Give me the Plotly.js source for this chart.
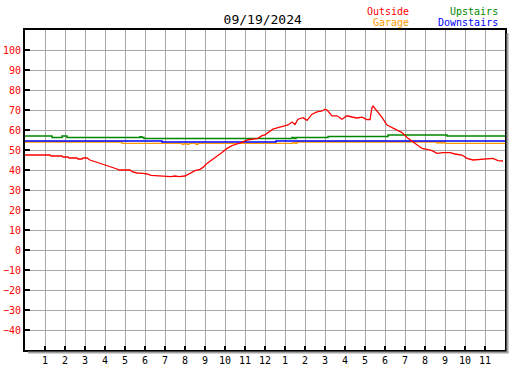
<!DOCTYPE html>
<html>
<head>
<meta charset="utf-8">
<script src="https://cdn.plot.ly/plotly-3.0.1.min.js"></script>
<style>
  html, body { margin: 0; padding: 0; background: #ffffff; }
  #chart { width: 527px; height: 370px; }
</style>
</head>
<body>
<div id="chart"></div>
<script>
// ---- Data (hours since midnight, temperature °F) ----
const outsideHours = [0,1.25,1.3,1.85,1.9,2.15,2.2,2.6,2.65,2.85,2.9,3.1,3.25,3.5,3.75,4.0,4.2,4.4,4.6,4.7,5.25,5.35,5.6,5.9,6.1,6.3,7.0,7.3,7.5,7.7,8.0,8.25,8.5,8.75,8.9,9.1,9.35,9.6,9.85,10.1,10.35,10.6,10.85,11.1,11.35,11.65,11.85,12.0,12.15,12.4,12.65,12.9,13.15,13.35,13.5,13.65,13.9,14.1,14.35,14.6,14.85,15.0,15.1,15.35,15.6,15.85,16.1,16.35,16.6,16.85,17.1,17.25,17.35,17.4,17.6,17.85,18.1,18.35,18.6,18.85,19.1,19.35,19.6,19.85,20.1,20.35,20.6,20.9,21.25,21.5,21.85,22.1,22.4,22.75,23.1,23.4,23.65,23.9];
const outsideTemps = [47.5,47.5,47,47,46.5,46.5,46,46,45.5,45.5,46,46,45,44.2,43.3,42.5,42,41.3,40.5,40,40,39.2,38.5,38.3,38,37.3,37,36.7,37,36.7,37,38.3,39.7,40.3,41.3,43.3,45,46.7,48.7,50.8,52.2,53,53.8,55,55.3,55.8,57.2,57.5,58.7,60.5,61.2,61.7,62.5,64,62.8,65.4,66.2,64.8,67.9,69.1,69.5,70.4,70,67.1,67.1,65.4,67.1,66.5,66,66.4,65.2,65.2,71.3,72,69.6,66.3,62.5,61.3,60.3,58.7,56.3,54.5,52.5,50.8,50.3,49.7,48.3,48.7,48.7,48,47.5,45.8,45,45.3,45.5,45.8,44.7,44.5];

const upstairsHours = [0,1.35,1.85,2.1,5.75,5.85,5.95,13.35,13.45,13.55,15.15,18.15,21.1,24];
const upstairsTemps = [57,56.3,57,56.2,56.6,56.2,55.8,56.2,55.8,56.2,56.8,57.5,57,57];

const downstairsHours = [0,6.85,12.55,24];
const downstairsTemps = [54.5,54,54.5,54.5];

const garageHours = [0,4.85,7.85,7.95,8.1,8.2,8.55,8.65,13.4,13.5,13.6,20.6,20.7,20.8,20.9,21.0,24];
const garageTemps = [54,53.3,52.8,53.3,52.8,53.3,52.8,53.3,53.8,53.3,54,53.5,54,53.5,54,53.3,53.3];

const hourTicks = [1,2,3,4,5,6,7,8,9,10,11,12,13,14,15,16,17,18,19,20,21,22,23];
const hourLabels = ["1","2","3","4","5","6","7","8","9","10","11","12","1","2","3","4","5","6","7","8","9","10","11"];
const tempTicks = [-40,-30,-20,-10,0,10,20,30,40,50,60,70,80,90,100];

const dateTitle = "09/19/2024";
const seriesNames = ["Outside","Garage","Upstairs","Downstairs"];

// ---- Plot ----
const mono = "DejaVu Sans Mono, Liberation Mono, monospace";
const W = 480, H = 320;

const traces = [
  {x: garageHours, y: garageTemps, mode: "lines", line: {color: "#ff9900", width: 1.3, shape: "hv"}, name: seriesNames[1]},
  {x: downstairsHours, y: downstairsTemps, mode: "lines", line: {color: "#0000ff", width: 1.5, shape: "hv"}, name: seriesNames[3]},
  {x: upstairsHours, y: upstairsTemps, mode: "lines", line: {color: "#008800", width: 1.5, shape: "hv"}, name: seriesNames[2]},
  {x: outsideHours, y: outsideTemps, mode: "lines", line: {color: "#ff0000", width: 1.3}, name: seriesNames[0]}
];

const layout = {
  width: 527, height: 370,
  margin: {l: 25, r: 22, t: 30, b: 20, pad: 0},
  paper_bgcolor: "#ffffff", plot_bgcolor: "#ffffff",
  showlegend: false,
  title: {text: dateTitle, font: {family: mono, size: 13, color: "#000000"},
          x: 261/527, xanchor: "center", xref: "paper", y: 1 - 19/370, yanchor: "middle"},
  xaxis: {
    range: [0, 24], tickmode: "array", tickvals: hourTicks, ticktext: hourLabels,
    showgrid: true, gridcolor: "#a8a8a8", gridwidth: 1, zeroline: false,
    showline: true, linecolor: "#000000", linewidth: 2, mirror: true,
    ticks: "inside", ticklen: 4, tickwidth: 1.5, tickcolor: "#000000",
    tickfont: {family: mono, size: 10, color: "#000000"},
    fixedrange: true
  },
  yaxis: {
    range: [-50, 110], tickmode: "array", tickvals: tempTicks,
    showgrid: true, gridcolor: "#a8a8a8", gridwidth: 1, zeroline: false,
    showline: true, linecolor: "#000000", linewidth: 2, mirror: true,
    ticks: "inside", ticklen: 5, tickwidth: 1.5, tickcolor: "#000000",
    tickfont: {family: mono, size: 10, color: "#ff0000"},
    fixedrange: true
  },
  shapes: [
    {type: "line", xref: "paper", yref: "paper", x0: 1 + 2.5/W, x1: 1 + 2.5/W, y0: -2.5/H, y1: 1 - 3/H,
     line: {color: "#a0a0a0", width: 2}},
    {type: "line", xref: "paper", yref: "paper", x0: 3/W, x1: 1 + 3.5/W, y0: -2.5/H, y1: -2.5/H,
     line: {color: "#a0a0a0", width: 2}}
  ],
  annotations: [
    {text: seriesNames[0], xref: "paper", yref: "paper", x: (411-25)/W, y: (350-11)/H, xanchor: "right", yanchor: "middle", showarrow: false, font: {family: mono, size: 10, color: "#ff0000"}},
    {text: seriesNames[1], xref: "paper", yref: "paper", x: (411-25)/W, y: (350-23)/H, xanchor: "right", yanchor: "middle", showarrow: false, font: {family: mono, size: 10, color: "#ff9900"}},
    {text: seriesNames[2], xref: "paper", yref: "paper", x: (500-25)/W, y: (350-11)/H, xanchor: "right", yanchor: "middle", showarrow: false, font: {family: mono, size: 10, color: "#008800"}},
    {text: seriesNames[3], xref: "paper", yref: "paper", x: (500-25)/W, y: (350-23)/H, xanchor: "right", yanchor: "middle", showarrow: false, font: {family: mono, size: 10, color: "#0000ff"}}
  ]
};

Plotly.newPlot("chart", traces, layout, {staticPlot: true, displayModeBar: false});
</script>
</body>
</html>
